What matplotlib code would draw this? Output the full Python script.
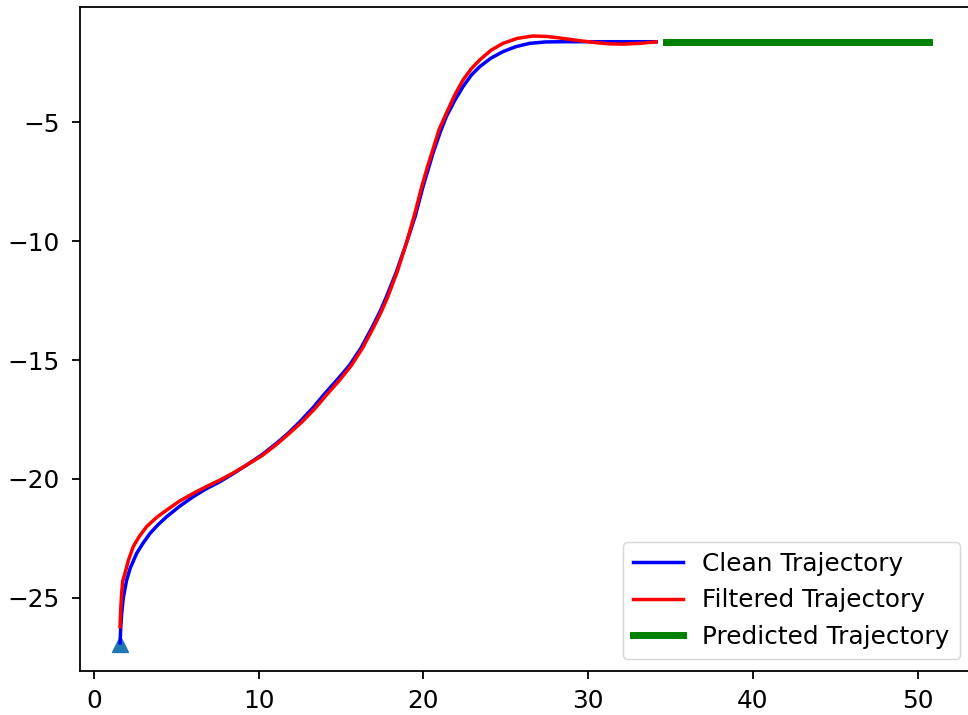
import matplotlib.pyplot as plt

# clean trajectory (x, y)
clean_x = [1.58, 1.62, 1.68, 1.78, 1.90, 1.98, 2.20, 2.59, 3.00, 3.40, 3.90,
           4.41, 5.20, 6.02, 6.80, 7.64, 8.45, 9.26, 10.2, 11.08, 11.8, 12.49,
           13.3, 14.0, 14.8, 15.52, 16.2, 16.9, 17.4, 17.75, 18.35, 18.96, 19.5,
           19.97, 20.3, 20.58, 21.0, 21.39, 21.9, 22.40, 22.9, 23.41, 24.1,
           24.82, 25.6, 26.44, 27.4, 28.46, 31.0, 34.12]
clean_y = [-26.9, -26.3, -25.66, -25.0, -24.55, -24.26, -23.75, -23.13, -22.68,
           -22.29, -21.92, -21.59, -21.15, -20.75, -20.42, -20.12, -19.78, -19.42,
           -18.98, -18.50, -18.07, -17.60, -17.0, -16.42, -15.8, -15.21, -14.5,
           -13.6, -12.9, -12.34, -11.3, -10.09, -8.95, -7.71, -6.95, -6.30, -5.45,
           -4.76, -4.08, -3.50, -3.02, -2.66, -2.30, -2.03, -1.82, -1.68, -1.62,
           -1.61, -1.61, -1.61]

# filtered trajectory
filt_x = [1.58, 1.62, 1.68, 1.74, 1.88, 2.10, 2.38, 2.75, 3.19, 3.80, 4.41,
          5.20, 6.02, 6.80, 7.64, 8.45, 9.26, 10.2, 11.08, 11.8, 12.6, 13.4,
          14.1, 14.9, 15.6, 16.3, 16.95, 17.45, 17.8, 18.4, 18.96, 19.45, 19.9,
          20.25, 20.55, 20.95, 21.39, 21.9, 22.40, 22.9, 23.41, 24.1, 24.82,
          25.7, 26.64, 27.5, 28.46, 29.5, 30.49, 31.3, 32.1, 33.1, 34.12]
filt_y = [-26.22, -25.5, -24.8, -24.3, -23.97, -23.4, -22.85, -22.42, -22.01,
          -21.62, -21.31, -20.93, -20.61, -20.33, -20.05, -19.75, -19.42, -19.02,
          -18.55, -18.12, -17.62, -17.05, -16.48, -15.85, -15.25, -14.5, -13.65,
          -12.95, -12.4, -11.3, -10.09, -8.9, -7.7, -6.85, -6.2, -5.3, -4.62,
          -3.85, -3.22, -2.75, -2.38, -1.97, -1.68, -1.47, -1.37, -1.39, -1.47,
          -1.57, -1.65, -1.70, -1.71, -1.68, -1.62]

# predicted trajectory
pred_x = [34.74, 50.68]
pred_y = [-1.63, -1.63]

start_x = [1.58]
start_y = [-26.93]

plt.rcParams["font.size"] = 17.8
plt.rcParams["axes.linewidth"] = 1.3
plt.rcParams["xtick.major.size"] = 6
plt.rcParams["ytick.major.size"] = 6
plt.rcParams["xtick.major.width"] = 1.3
plt.rcParams["ytick.major.width"] = 1.3
plt.rcParams["xtick.major.pad"] = 7
plt.rcParams["ytick.major.pad"] = 8.5

fig = plt.figure(figsize=(9.68, 7.15), dpi=100)
ax = fig.add_axes([80 / 968, 44 / 715, 892 / 968, 664 / 715])

ax.scatter(start_x, start_y, marker="^", s=132)
ax.plot(clean_x, clean_y, color="blue", lw=2.5, label="Clean Trajectory")
ax.plot(filt_x, filt_y, color="red", lw=2.5, label="Filtered Trajectory")
ax.plot(pred_x, pred_y, color="green", lw=5, label="Predicted Trajectory")

ax.set_xlim(-0.85, 53.3)
ax.set_ylim(-28.08, -0.15)
ax.legend(loc="lower right")

plt.savefig("out.png", dpi=100)
